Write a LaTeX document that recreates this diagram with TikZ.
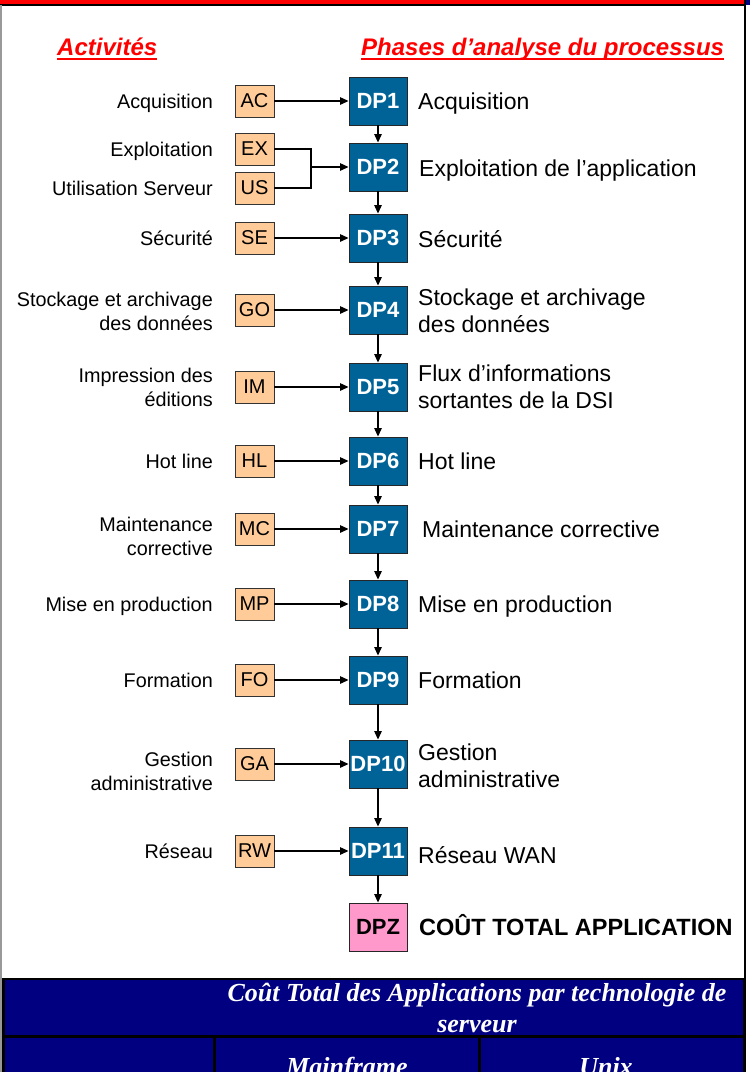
\documentclass[tikz,border=0pt]{standalone}
\usepackage{fontspec}
\setmainfont{Liberation Sans}
\newfontfamily\tabserif{Liberation Serif}
\usetikzlibrary{arrows.meta}
\definecolor{dpblue}{RGB}{0,99,152}
\definecolor{peach}{RGB}{255,204,153}
\definecolor{pinkz}{RGB}{255,153,204}
\definecolor{navytab}{RGB}{0,0,128}
\definecolor{hdrred}{RGB}{255,0,0}
\begin{document}
\begin{tikzpicture}[x=1pt,y=-1pt,
  actbox/.style={draw=black!80, line width=0.9pt, fill=peach, minimum width=39pt, minimum height=32pt, inner sep=0pt, font=\fontsize{20}{24}\selectfont},
  dpbox/.style={draw=black!85, line width=0.9pt, fill=dpblue, minimum width=58pt, minimum height=48pt, inner sep=0pt, text=white, font=\bfseries\fontsize{22}{26}\selectfont},
  leftlab/.style={anchor=base east, align=right, inner sep=0pt, font=\fontsize{19.8}{24}\selectfont},
  rightlab/.style={anchor=base west, align=left, inner sep=0pt, font=\fontsize{23}{27}\selectfont},
  hdr/.style={anchor=base west, inner sep=0pt, text=hdrred, font=\bfseries\itshape\fontsize{24}{28}\selectfont},
  tabtext/.style={inner sep=0pt, text=white, align=center, font=\tabserif\bfseries\itshape\fontsize{26}{31}\selectfont},
  arr/.style={-{Triangle[length=8.5pt,width=7.5pt]}, line width=1.2pt},
  plain/.style={line width=1.2pt}
]
\useasboundingbox (0,0) rectangle (750,1072);
\clip (0,0) rectangle (750,1072);
% frame
\fill[white] (0,0) rectangle (750,1072);
\fill[hdrred] (0,0) rectangle (744,3.5);
\fill[navytab] (746,0) rectangle (750,5);
\draw[line width=2pt] (0,4.8) -- (746,4.8);
\draw[line width=2pt] (745,0) -- (745,1000);
\draw[black!40, line width=1.5pt] (0.75,5) -- (0.75,1072);

% headers
\node[hdr] (hact) at (57,55) {Activités};
\node[hdr] (hph) at (361,55) {Phases d’analyse du processus};
\draw[hdrred, line width=2.4pt] ([yshift=-3.8pt]hact.base west) -- ([yshift=-3.8pt]hact.base east);
\draw[hdrred, line width=2.4pt] ([yshift=-3.8pt]hph.base west) -- ([yshift=-3.8pt]hph.base east);

% DP boxes
\node[dpbox] (dp1) at (378,101) {DP1};
\node[dpbox] (dp2) at (378,167) {DP2};
\node[dpbox] (dp3) at (378,238) {DP3};
\node[dpbox] (dp4) at (378,310) {DP4};
\node[dpbox] (dp5) at (378,387) {DP5};
\node[dpbox] (dp6) at (378,461) {DP6};
\node[dpbox] (dp7) at (378,529) {DP7};
\node[dpbox] (dp8) at (378,604) {DP8};
\node[dpbox] (dp9) at (378,680) {DP9};
\node[dpbox] (dp10) at (378,764) {DP10};
\node[dpbox] (dp11) at (378,851) {DP11};
\node[dpbox, fill=pinkz, text=black] (dpz) at (378,927) {DPZ};

% activity boxes
\node[actbox] (ac) at (254.5,101) {AC};
\node[actbox] (ex) at (254.5,149) {EX};
\node[actbox] (us) at (254.5,188) {US};
\node[actbox] (se) at (254.5,238) {SE};
\node[actbox] (go) at (254.5,310) {GO};
\node[actbox] (im) at (254.5,387) {IM};
\node[actbox] (hl) at (254.5,461) {HL};
\node[actbox] (mc) at (254.5,529) {MC};
\node[actbox] (mp) at (254.5,604) {MP};
\node[actbox] (fo) at (254.5,680) {FO};
\node[actbox] (ga) at (254.5,764) {GA};
\node[actbox] (rw) at (254.5,851) {RW};

% left labels (base = last line baseline)
\node[leftlab] (lac) at (213,108) {Acquisition};
\node[leftlab] (lex) at (213,156) {Exploitation};
\node[leftlab] (lus) at (213,195) {Utilisation Serveur};
\node[leftlab] (lse) at (213,245) {Sécurité};
\node[leftlab] (lgo) at (213,330) {Stockage et archivage\\des données};
\node[leftlab] (lim) at (213,406) {Impression des\\éditions};
\node[leftlab] (lhl) at (213,468) {Hot line};
\node[leftlab] (lmc) at (213,555) {Maintenance\\corrective};
\node[leftlab] (lmp) at (213,611) {Mise en production};
\node[leftlab] (lfo) at (213,687) {Formation};
\node[leftlab] (lga) at (213,790) {Gestion\\administrative};
\node[leftlab] (lrw) at (213,858) {Réseau};

% right labels (base = last line baseline)
\node[rightlab] (r1) at (418,109) {Acquisition};
\node[rightlab] (r2) at (419,176) {Exploitation de l’application};
\node[rightlab] (r3) at (418,247) {Sécurité};
\node[rightlab] (r4) at (418,332) {Stockage et archivage\\des données};
\node[rightlab] (r5) at (418,408) {Flux d’informations\\sortantes de la DSI};
\node[rightlab] (r6) at (418,469.5) {Hot line};
\node[rightlab] (r7) at (422,537.5) {Maintenance corrective};
\node[rightlab] (r8) at (418,612.5) {Mise en production};
\node[rightlab] (r9) at (418,688.5) {Formation};
\node[rightlab] (r10) at (418,787) {Gestion\\administrative};
\node[rightlab] (r11) at (418,863) {Réseau WAN};
\node[rightlab, font=\bfseries\fontsize{23.5}{27}\selectfont] (rz) at (419,935.5) {COÛT TOTAL APPLICATION};

% horizontal connectors
\draw[arr] (ac) -- (dp1);
\coordinate (mj) at (311,167);
\draw[plain] (ex.east) -| (mj);
\draw[plain] (us.east) -| (mj);
\draw[arr] (mj) -- (dp2.west);
\draw[arr] (se) -- (dp3);
\draw[arr] (go) -- (dp4);
\draw[arr] (im) -- (dp5);
\draw[arr] (hl) -- (dp6);
\draw[arr] (mc) -- (dp7);
\draw[arr] (mp) -- (dp8);
\draw[arr] (fo) -- (dp9);
\draw[arr] (ga) -- (dp10);
\draw[arr] (rw) -- (dp11);

% vertical connectors
\draw[arr] (dp1) -- (dp2);
\draw[arr] (dp2) -- (dp3);
\draw[arr] (dp3) -- (dp4);
\draw[arr] (dp4) -- (dp5);
\draw[arr] (dp5) -- (dp6);
\draw[arr] (dp6) -- (dp7);
\draw[arr] (dp7) -- (dp8);
\draw[arr] (dp8) -- (dp9);
\draw[arr] (dp9) -- (dp10);
\draw[arr] (dp10) -- (dp11);
\draw[arr] (dp11) -- (dpz);

% table
\draw[line width=2.2pt, fill=navytab] (3.5,979) rectangle (744.5,1085);
\draw[line width=2.2pt] (3.5,1036.5) -- (744.5,1036.5);
\draw[line width=2.2pt] (214.5,1036.5) -- (214.5,1085);
\draw[line width=2.2pt] (479.5,1036.5) -- (479.5,1085);
\node[tabtext, anchor=base] (t1) at (477,1032) {Coût Total des Applications par technologie de\\serveur};
\node[tabtext, anchor=base] (t2) at (347,1075) {Mainframe};
\node[tabtext, anchor=base] (t3) at (606,1075) {Unix};
\end{tikzpicture}
\end{document}
